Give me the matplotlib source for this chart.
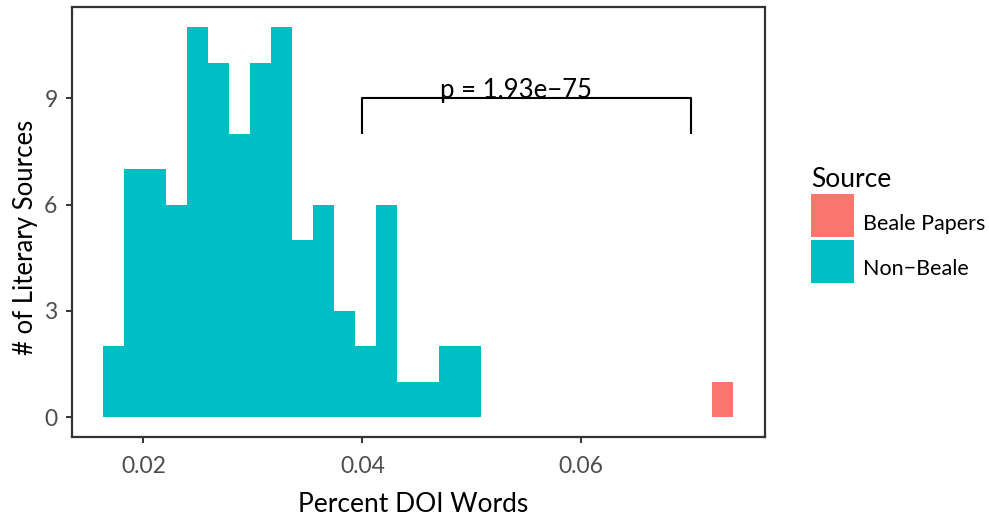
import matplotlib
matplotlib.use("Agg")
import matplotlib.pyplot as plt
from matplotlib.patches import Rectangle
import numpy as np

# histogram bins (ggplot bins=30 over the pooled data)
bin_start = 0.01631
bin_width = 0.00192
non_beale_counts = [2, 7, 7, 6, 11, 10, 8, 10, 11, 5, 6, 3, 2, 6, 1, 1, 2, 2,
                    0, 0, 0, 0, 0, 0, 0, 0, 0, 0, 0, 0]
beale_counts = [0, 0, 0, 0, 0, 0, 0, 0, 0, 0, 0, 0, 0, 0, 0, 0, 0, 0,
                0, 0, 0, 0, 0, 0, 0, 0, 0, 0, 0, 1]

series_names = ["Beale Papers", "Non\u2212Beale"]
series_colors = ["#F8766D", "#00BFC4"]

x_ticks = [0.02, 0.04, 0.06]
x_tick_labels = ["0.02", "0.04", "0.06"]
y_ticks = [0, 3, 6, 9]

# significance bracket
bracket_x = [0.04, 0.07]
bracket_top = 9
bracket_bottom = 8
p_label = "p = 1.93e\u221275"
p_label_x = 0.054

W, H = 989, 517


def fx(px):
    return px / W


def fy(py):
    return 1 - py / H


def main():
    plt.rcParams["font.family"] = ["Lato", "DejaVu Sans"]
    fig = plt.figure(figsize=(W / 100, H / 100), dpi=100)
    ax = fig.add_axes([fx(71.5), fy(437), (765 - 71.5) / W, (437 - 7.5) / H])

    n_bins = len(non_beale_counts)
    edges = bin_start + bin_width * np.arange(n_bins + 1)
    ax.bar(edges[:-1], beale_counts, width=bin_width, align="edge",
           color=series_colors[0], linewidth=0)
    ax.bar(edges[:-1], non_beale_counts, width=bin_width, align="edge",
           color=series_colors[1], linewidth=0)

    # bracket + p value
    ax.plot([bracket_x[0], bracket_x[0], bracket_x[1], bracket_x[1]],
            [bracket_bottom, bracket_top, bracket_top, bracket_bottom],
            color="black", linewidth=1.5, solid_capstyle="butt")
    ax.text(p_label_x, bracket_top, p_label, ha="center", va="baseline",
            fontsize=18.5, color="black")

    span = edges[-1] - edges[0]
    ax.set_xlim(edges[0] - 0.05 * span, edges[-1] + 0.05 * span)
    ymax = max(max(non_beale_counts), max(beale_counts))
    ax.set_ylim(-0.05 * ymax, ymax * 1.05)

    ax.set_xticks(x_ticks)
    ax.set_xticklabels(x_tick_labels)
    ax.set_yticks(y_ticks)
    ax.tick_params(axis="both", direction="out", length=4.5, width=1.4,
                   color="#333333", labelcolor="#4D4D4D", labelsize=16.5)
    ax.tick_params(axis="x", pad=9)
    ax.tick_params(axis="y", pad=5.5)
    for sp in ax.spines.values():
        sp.set_color("#333333")
        sp.set_linewidth(1.6)

    ax.set_xlabel("Percent DOI Words", fontsize=19, color="black")
    ax.xaxis.label.set_va("baseline")
    ax.xaxis.set_label_coords(0.4928, -0.1737)
    ax.set_ylabel("# of Literary Sources", fontsize=18.5, color="black")
    ax.yaxis.label.set_va("baseline")
    ax.yaxis.set_label_coords(-0.0555, 0.465)

    # legend
    fig.text(fx(810.7), fy(187), "Source", fontsize=19, va="baseline", ha="left")
    key_tops = [193.7, 240]
    baselines = [230.3, 275]
    for name, col, top, base in zip(series_names, series_colors, key_tops, baselines):
        fig.add_artist(Rectangle((fx(811), fy(top + 43)), 43 / W, 43 / H,
                                 transform=fig.transFigure, color=col, linewidth=0))
        fig.text(fx(862.7), fy(base), name, fontsize=15.5, va="baseline", ha="left")

    fig.savefig("out.png", dpi=100)


if __name__ == "__main__":
    main()
